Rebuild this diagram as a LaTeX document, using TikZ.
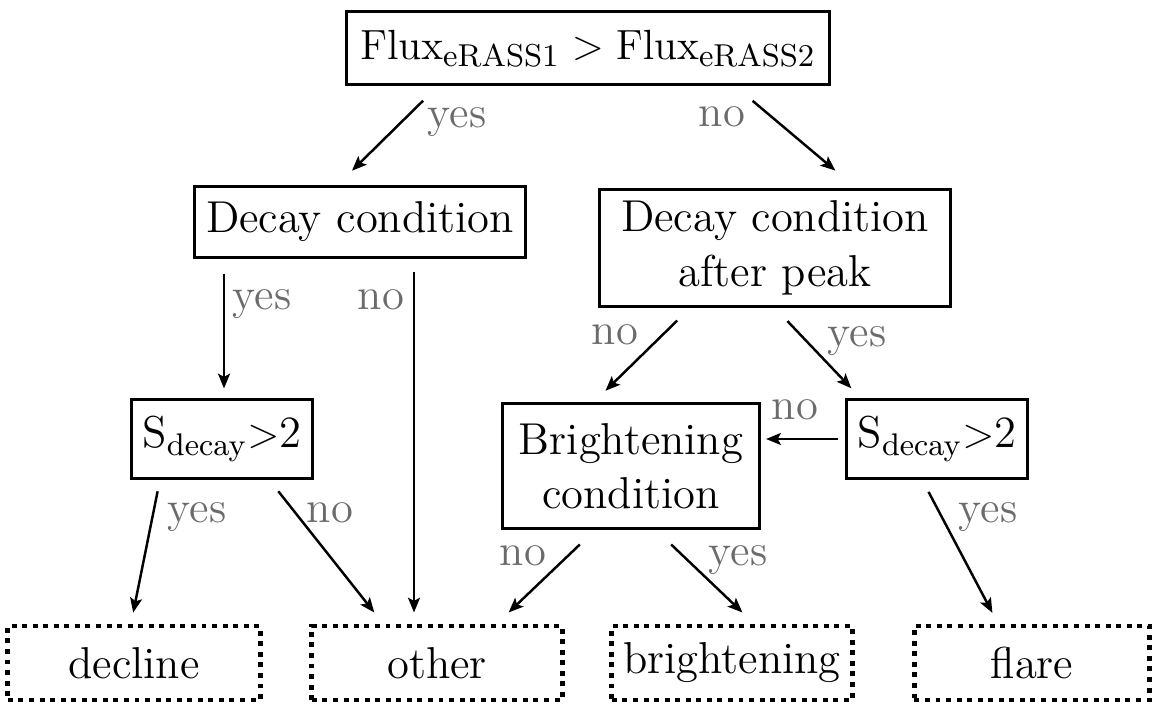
\documentclass[tikz,border=0pt]{standalone}
\usepackage{amsmath}
\usetikzlibrary{arrows, arrows.meta, positioning, calc}
\tikzset{>={Stealth[length=4.2pt, width=3.4pt, inset=0.9pt]}}
\definecolor{lblgray}{gray}{0.42}

\begin{document}
\begin{tikzpicture}[x=0.01cm, y=-0.01cm, font=\fontsize{12.7}{15.5}\selectfont,
    box/.style={draw, line width=0.85pt, align=center, inner sep=0pt},
    leaf/.style={draw, line width=1.4pt, dash pattern=on 1.4pt off 1.6pt, inner sep=0pt, minimum height=0.74cm},
    arr/.style={->, line width=0.7pt},
    lbl/.style={text=lblgray, anchor=base}]
    \useasboundingbox (0,0) rectangle (1158,716);

    % decision boxes
    \node[box, minimum width=4.83cm, minimum height=0.73cm] (flux) at (588,48) {$\mathrm{Flux}_{\mathrm{eRASS1}} > \mathrm{Flux}_{\mathrm{eRASS2}}$};
    \node[box, minimum width=3.30cm, minimum height=0.70cm] (decay) at (360,222) {Decay condition};
    \node[box, minimum width=3.50cm, minimum height=1.17cm] (peak) at (775,248) {Decay condition\\after peak};
    \node[box, minimum width=1.80cm, minimum height=0.78cm] (sleft) at (222,439) {S$_\text{decay}$$>$2};
    \node[box, minimum width=2.57cm, minimum height=1.25cm] (bright) at (631,466) {Brightening\\condition};
    \node[box, minimum width=1.80cm, minimum height=0.78cm] (sright) at (937,439) {S$_\text{decay}$$>$2};

    % classes
    \node[leaf, minimum width=2.52cm] (decline) at (134,663) {decline};
    \node[leaf, minimum width=2.50cm] (other) at (437,663) {other};
    \node[leaf, minimum width=2.40cm] (brightening) at (732,663) {brightening};
    \node[leaf, minimum width=2.35cm] (flare) at (1032,663) {flare};

    \draw[arr, shorten <=0.21cm, shorten >=0.21cm]($(flux.south)+(-150,0)$)--($(decay.north)+(-23,0)$);
    \draw[arr, shorten <=0.23cm, shorten >=0.27cm]($(flux.south)+(147,0)$)--($(peak.north)+(81,0)$);
    \draw[arr, shorten <=0.15cm, shorten >=0.10cm]($(decay.south)+(-136,0)$)--($(sleft.north)+(2,0)$);
    \draw[arr, shorten <=0.13cm, shorten >=0.11cm]($(decay.south)+(54,0)$)--($(other.north)+(-23,0)$);
    \draw[arr, shorten <=0.18cm, shorten >=0.16cm]($(peak.south)+(-85,0)$)--($(bright.north)+(-37,0)$);
    \draw[arr, shorten <=0.18cm, shorten >=0.14cm](peak.south)--($(sright.north)+(-76,0)$);
    \draw[arr, shorten <=0.07cm, shorten >=0.05cm](sright.west)--(sright.west -| bright.east);
    \draw[arr, shorten <=0.12cm, shorten >=0.11cm]($(sleft.south)+(-62,0)$)--($(decline.north)+(-3,0)$);
    \draw[arr, shorten <=0.15cm, shorten >=0.14cm]($(sleft.south)+(47,0)$)--($(other.north)+(-54,0)$);
    \draw[arr, shorten <=0.21cm, shorten >=0.16cm]($(bright.south)+(-36,0)$)--($(other.north)+(60,0)$);
    \draw[arr, shorten <=0.21cm, shorten >=0.16cm]($(bright.south)+(25,0)$)--($(brightening.north)+(22,0)$);
    \draw[arr, shorten <=0.14cm, shorten >=0.12cm]($(sright.south)+(-15,0)$)--($(flare.north)+(-34,0)$);

    % yes / no
    \node[lbl] (y1) at (457,128) {yes};
    \node[lbl] (n1) at (722,127) {no};
    \node[lbl] (y2) at (262,310) {yes};
    \node[lbl] (n2) at (381,310) {no};
    \node[lbl] (n3) at (615,345) {no};
    \node[lbl] (y3) at (857,347) {yes};
    \node[lbl] (n4) at (795,420) {no};
    \node[lbl] (y4) at (197,522) {yes};
    \node[lbl] (n5) at (330,522) {no};
    \node[lbl] (n6) at (523,565) {no};
    \node[lbl] (y5) at (738,565) {yes};
    \node[lbl] (y6) at (988,522) {yes};
\end{tikzpicture}
\end{document}
